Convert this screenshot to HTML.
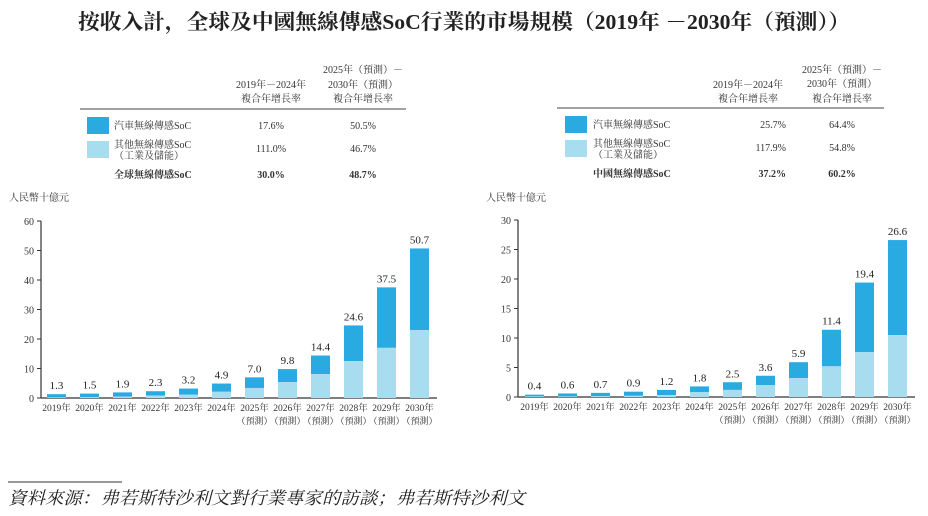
<!DOCTYPE html>
<html><head><meta charset="utf-8">
<style>
body{margin:0;background:#fff;}
svg{display:block;font-family:"Liberation Serif","Noto Serif CJK SC","Noto Sans CJK TC",serif;}
</style></head>
<body>
<svg id="svg" width="928" height="516" viewBox="0 0 928 516" xmlns="http://www.w3.org/2000/svg">
<text x="78" y="29" textLength="772" lengthAdjust="spacingAndGlyphs" font-size="21" font-weight="bold" fill="#222">按收入計，全球及中國無線傳感SoC行業的市場規模（2019年 －2030年（預測））</text>

<g font-size="10" fill="#333">
<text x="271" y="88" text-anchor="middle">2019年－2024年</text>
<text x="271" y="102" text-anchor="middle">複合年增長率</text>
<text x="363" y="73" text-anchor="middle">2025年（預測）－</text>
<text x="363" y="88" text-anchor="middle">2030年（預測）</text>
<text x="363" y="102" text-anchor="middle">複合年增長率</text>
<line x1="80" y1="109" x2="406" y2="109" stroke="#444" stroke-width="1"/>
<rect x="87" y="117" width="22" height="17" fill="#29abe2"/>
<text x="114" y="129">汽車無線傳感SoC</text>
<text x="271" y="129" text-anchor="middle">17.6%</text>
<text x="363" y="129" text-anchor="middle">50.5%</text>
<rect x="87" y="141" width="22" height="17" fill="#a8ddf0"/>
<text x="114" y="148">其他無線傳感SoC</text>
<text x="114" y="159">（工業及儲能）</text>
<text x="271" y="152" text-anchor="middle">111.0%</text>
<text x="363" y="152" text-anchor="middle">46.7%</text>
<text x="114" y="178" font-weight="bold">全球無線傳感SoC</text>
<text x="271" y="178" text-anchor="middle" font-weight="bold">30.0%</text>
<text x="363" y="178" text-anchor="middle" font-weight="bold">48.7%</text>
</g>

<g font-size="10" fill="#333">
<text x="748" y="88" text-anchor="middle">2019年－2024年</text>
<text x="748" y="102" text-anchor="middle">複合年增長率</text>
<text x="842" y="73" text-anchor="middle">2025年（預測）－</text>
<text x="842" y="87" text-anchor="middle">2030年（預測）</text>
<text x="842" y="102" text-anchor="middle">複合年增長率</text>
<line x1="557" y1="108" x2="884" y2="108" stroke="#444" stroke-width="1"/>
<rect x="565" y="116" width="22" height="17" fill="#29abe2"/>
<text x="593" y="128">汽車無線傳感SoC</text>
<text x="786" y="128" text-anchor="end">25.7%</text>
<text x="842" y="128" text-anchor="middle">64.4%</text>
<rect x="565" y="140" width="22" height="17" fill="#a8ddf0"/>
<text x="593" y="147">其他無線傳感SoC</text>
<text x="593" y="158">（工業及儲能）</text>
<text x="786" y="151" text-anchor="end">117.9%</text>
<text x="842" y="151" text-anchor="middle">54.8%</text>
<text x="593" y="177" font-weight="bold">中國無線傳感SoC</text>
<text x="786" y="177" text-anchor="end" font-weight="bold">37.2%</text>
<text x="842" y="177" text-anchor="middle" font-weight="bold">60.2%</text>
</g>

<g id="chartL"></g>
<g id="chartR"></g>

<line x1="8" y1="482" x2="122" y2="482" stroke="#333" stroke-width="1"/>
<text x="8" y="504" textLength="517" lengthAdjust="spacingAndGlyphs" font-size="17.5" font-style="italic" fill="#222">資料來源：弗若斯特沙利文對行業專家的訪談；弗若斯特沙利文</text>
</svg>
<script>
const years = ["2019年","2020年","2021年","2022年","2023年","2024年","2025年","2026年","2027年","2028年","2029年","2030年"];
const globalTotal = [1.3,1.5,1.9,2.3,3.2,4.9,7.0,9.8,14.4,24.6,37.5,50.7];
const globalOther = [0.2,0.3,0.5,0.8,1.1,2.1,3.4,5.4,8.1,12.5,17.0,23.0];
const globalTicks = [0,10,20,30,40,50,60];
const chinaTotal = [0.4,0.6,0.7,0.9,1.2,1.8,2.5,3.6,5.9,11.4,19.4,26.6];
const chinaOther = [0.1,0.1,0.15,0.2,0.3,0.85,1.2,2.0,3.2,5.2,7.6,10.5];
const chinaTicks = [0,5,10,15,20,25,30];
const NS="http://www.w3.org/2000/svg";
function mk(parent,tag,attrs,text){const e=document.createElementNS(NS,tag);for(const k in attrs)e.setAttribute(k,attrs[k]);if(text!==undefined)e.textContent=text;parent.appendChild(e);return e;}
function draw(id,total,other,ticks,cfg){
  const g=document.getElementById(id);
  const max=ticks[ticks.length-1];
  const y=v=>cfg.base-(v/max)*(cfg.base-cfg.top);
  const x=i=>cfg.x0+cfg.first+i*cfg.step;
  const unit=mk(g,"text",{x:cfg.ax-32,y:201,"font-size":10,fill:"#333"},"人民幣十億元");
  
  
  const ax=mk(g,"line",{x1:cfg.ax,y1:cfg.top,x2:cfg.ax,y2:cfg.base,stroke:"#333","stroke-width":1.2});
  
  
  const bx=mk(g,"line",{x1:cfg.ax,y1:cfg.base,x2:cfg.right,y2:cfg.base,stroke:"#333","stroke-width":1.2});
  
  
  ticks.forEach(t=>{
    const tk=mk(g,"line",{x1:cfg.ax-4,y1:y(t),x2:cfg.ax,y2:y(t),stroke:"#333"});
    
    
    const tl=mk(g,"text",{x:cfg.ax-7,y:y(t)+4,"text-anchor":"end","font-size":10,fill:"#333"},t);
    
    
  });
  years.forEach((yr,i)=>{
    const cx=x(i), w=19;
    const top=mk(g,"rect",{x:cx-w/2,y:y(total[i]),width:w,height:y(other[i])-y(total[i]),fill:"#29abe2"});
    
    
    const bot=mk(g,"rect",{x:cx-w/2,y:y(other[i]),width:w,height:cfg.base-y(other[i]),fill:"#a8ddf0"});
    
    
    const vl=mk(g,"text",{x:cx,y:y(total[i])-5,"text-anchor":"middle","font-size":11,fill:"#222"},total[i].toFixed(1));
    
    
    const xl=mk(g,"text",{x:cx,y:cfg.base+13,"text-anchor":"middle","font-size":9.5,fill:"#333"},yr);
    
    
    if(i>=6){
      const fl=mk(g,"text",{x:cx,y:cfg.base+26,"text-anchor":"middle","font-size":9,fill:"#333"},"（預測）");
      
      
    }
  });
}
draw("chartL",globalTotal,globalOther,globalTicks,{ax:41,top:221,base:398,x0:41,first:15.5,step:33,right:437});
draw("chartR",chinaTotal,chinaOther,chinaTicks,{ax:518,top:220,base:397,x0:518,first:16.5,step:33,right:915});
</script>
</body></html>
